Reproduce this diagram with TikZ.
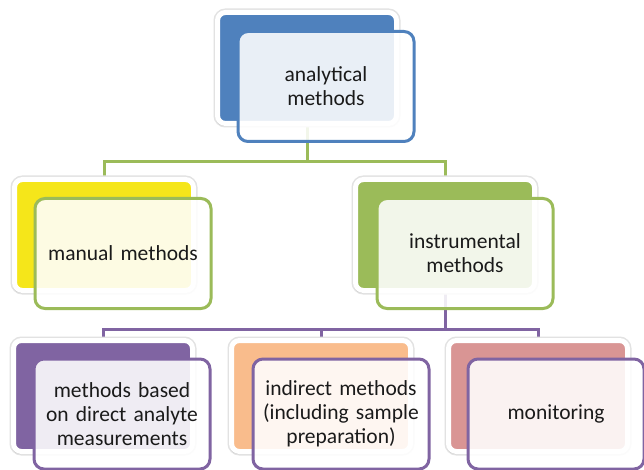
\documentclass[tikz,border=0pt]{standalone}
\usepackage{fontspec}
\setmainfont{Carlito}
\usetikzlibrary{shadows}
\definecolor{cblue}{HTML}{4F81BD}
\definecolor{cyellow}{HTML}{F5E61A}
\definecolor{cgreen}{HTML}{9BBB59}
\definecolor{cpurple}{HTML}{8064A2}
\definecolor{corange}{HTML}{F9BC8C}
\definecolor{cpink}{HTML}{D99594}
\definecolor{ctext}{HTML}{1A1A1A}
\definecolor{chalo}{HTML}{E2E2E2}
\pgfdeclarelayer{bg}
\pgfdeclarelayer{lines}
\pgfsetlayers{bg,lines,main}
\tikzset{
  backcard/.style={rectangle, rounded corners=8pt, draw=white, line width=5pt,
    minimum width=179pt, minimum height=111pt, inner sep=0pt,
    preaction={draw=chalo, line width=8pt},
    drop shadow={shadow xshift=-1.5pt, shadow yshift=-2.5pt, opacity=0.12, fill=black}},
  frontcard/.style={rectangle, rounded corners=10pt, line width=3pt, fill=white,
    fill opacity=0.88, text opacity=1, minimum width=176pt, minimum height=110pt,
    inner sep=0pt, align=center, text width=170pt, text=ctext,
    font=\fontsize{21.5}{23.8}\selectfont},
  gline/.style={draw=cgreen, line width=3pt},
  pline/.style={draw=cpurple, line width=3pt},
}
\begin{document}
\begin{tikzpicture}[x=1pt,y=-1pt]
\begin{pgfonlayer}{bg}
\fill[white] (0,0) rectangle (644,470);
\end{pgfonlayer}
\useasboundingbox (0,0) rectangle (644,470);
\coordinate (gj) at (0,162);
\coordinate (pj) at (0,329);
% back cards
\node[backcard, fill=cblue]   (topB) at (307,68)  {};
\node[backcard, fill=cyellow] (manB) at (104,235) {};
\node[backcard, fill=cgreen]  (insB) at (445,235) {};
\node[backcard, fill=cpurple] (dirB) at (103,396) {};
\node[backcard, fill=corange] (indB) at (321,396) {};
\node[backcard, fill=cpink]   (monB) at (538,396) {};
% front cards
\node[frontcard, draw=cblue]   (top) at (326,86.5)  {analytical\\methods};
\node[frontcard, draw=cgreen]  (man) at (123,253.5) {manual methods};
\node[frontcard, draw=cgreen]  (ins) at (465,253.5) {instrumental\\methods};
\node[frontcard, draw=cpurple] (dir) at (122,414)   {methods based\\on direct analyte\\measurements};
\node[frontcard, draw=cpurple] (ind) at (341,414)   {indirect methods\\(including sample\\preparation)};
\node[frontcard, draw=cpurple] (mon) at (556,414)   {monitoring};
% connectors
\begin{pgfonlayer}{lines}
\draw[gline] (topB.center) -- (topB.center |- gj) -| (manB.north);
\draw[gline] (topB.center |- gj) -| (insB.north);
\draw[pline] (insB.center) -- (insB.center |- pj) -| (dirB.north);
\draw[pline] (insB.center |- pj) -| (indB.north);
\draw[pline] (insB.center |- pj) -| (monB.north);
\end{pgfonlayer}
\end{tikzpicture}
\end{document}
